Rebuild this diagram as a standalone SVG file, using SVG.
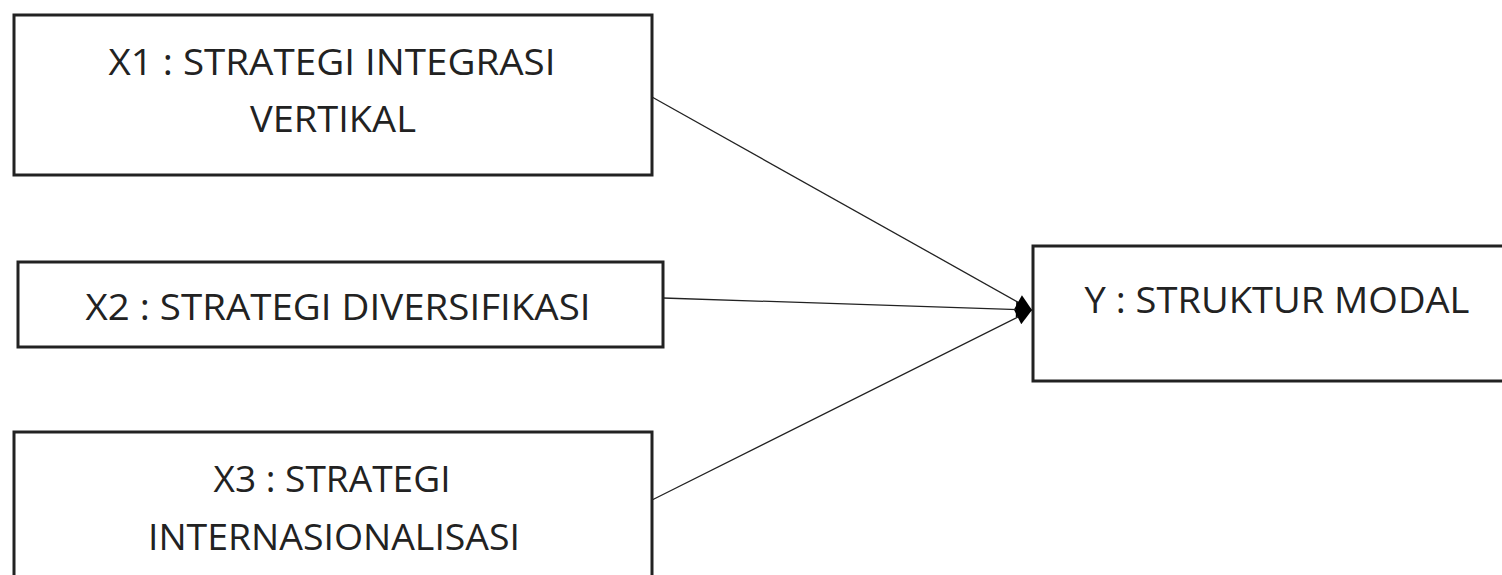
<svg xmlns="http://www.w3.org/2000/svg" width="1502" height="575" viewBox="0 0 1502 575">
<style>
.box{fill:#fff;stroke:#222;stroke-width:3}
.t{font-family:"Open Sans","Liberation Sans",sans-serif;font-size:37px;fill:#222;text-anchor:middle}
.c{stroke:#222;stroke-width:1.3;fill:none}
</style>
<defs>
<marker id="ah" viewBox="0 0 10 10" refX="10" refY="5" markerWidth="18" markerHeight="16" markerUnits="userSpaceOnUse" orient="auto">
<path d="M0,0 L10,5 L0,10 z" fill="#000"/>
</marker>
</defs>
<rect width="1502" height="575" fill="#fff"/>
<g id="connectors">
<line class="c" x1="652" y1="97" x2="1032" y2="310" marker-end="url(#ah)"/>
<line class="c" x1="663" y1="298" x2="1032" y2="310" marker-end="url(#ah)"/>
<line class="c" x1="652" y1="500" x2="1032" y2="310" marker-end="url(#ah)"/>
</g>
<g id="x1">
<rect class="box" x="14" y="15" width="638" height="160"/>
<text class="t" x="332" y="75" textLength="447" lengthAdjust="spacingAndGlyphs">X1 : STRATEGI INTEGRASI</text>
<text class="t" x="333" y="132" textLength="166" lengthAdjust="spacingAndGlyphs">VERTIKAL</text>
</g>
<g id="x2">
<rect class="box" x="18" y="262" width="645" height="85"/>
<text class="t" x="338" y="320" textLength="505" lengthAdjust="spacingAndGlyphs">X2 : STRATEGI DIVERSIFIKASI</text>
</g>
<g id="x3">
<rect class="box" x="14" y="432" width="638" height="160"/>
<text class="t" x="332" y="492" textLength="237" lengthAdjust="spacingAndGlyphs">X3 : STRATEGI</text>
<text class="t" x="334" y="550" textLength="372" lengthAdjust="spacingAndGlyphs">INTERNASIONALISASI</text>
</g>
<g id="y">
<rect class="box" x="1033" y="246" width="480" height="135"/>
<text class="t" x="1277" y="313" textLength="385" lengthAdjust="spacingAndGlyphs">Y : STRUKTUR MODAL</text>
</g>
</svg>
